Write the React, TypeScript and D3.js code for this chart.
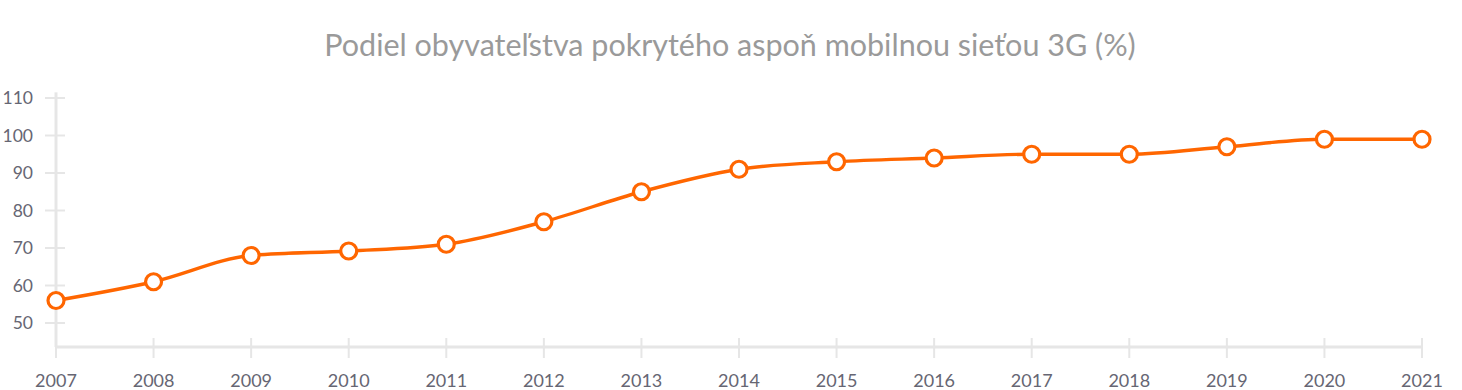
import React from "react";
import * as d3 from "d3";

const years = [2007, 2008, 2009, 2010, 2011, 2012, 2013, 2014, 2015, 2016, 2017, 2018, 2019, 2020, 2021];
const values = [56, 61, 68, 69.2, 71, 77, 85, 91, 93, 94, 95, 95, 97, 99, 99];
const yTicks = [50, 60, 70, 80, 90, 100, 110];
const title = "Podiel obyvateľstva pokrytého aspoň mobilnou sieťou 3G (%)";

const W = 1462;
const H = 390;
const FONT = "Lato, 'Open Sans', sans-serif";

export default function App() {
  const x = d3.scaleLinear().domain([2007, 2021]).range([56, 1422]);
  const y = d3.scaleLinear().domain([50, 110]).range([323, 98]);
  const axisY = y(43.6);
  const line = d3
    .line<number>()
    .x((_, i) => x(years[i]))
    .y((d) => y(d))
    .curve(d3.curveMonotoneX);

  return (
    <svg width={W} height={H} style={{ position: "absolute", left: 0, top: 0, background: "#fff" }}>
      <text x={730} y={56} textAnchor="middle" fontFamily={FONT} fontSize={30.5} fill="#9a9a9a">
        {title}
      </text>
      <line x1={x(2007)} x2={x(2007)} y1={y(111.5)} y2={axisY} stroke="#e6e6e6" strokeWidth={3} />
      {yTicks.map((t) => (
        <g key={t}>
          <line x1={45} x2={65} y1={y(t)} y2={y(t)} stroke="#e6e6e6" strokeWidth={2} />
          <text x={33} y={y(t)} dy="0.35em" textAnchor="end" fontFamily={FONT} fontSize={17.5} fill="#666673">
            {t}
          </text>
        </g>
      ))}
      <line x1={x(2007)} x2={x(2021)} y1={axisY} y2={axisY} stroke="#e6e6e6" strokeWidth={3} />
      {years.map((yr) => (
        <g key={yr}>
          <line x1={x(yr)} x2={x(yr)} y1={axisY - 9} y2={axisY + 11} stroke="#e6e6e6" strokeWidth={2} />
          <text x={x(yr)} y={387} textAnchor="middle" fontFamily={FONT} fontSize={18} fill="#666673">
            {yr}
          </text>
        </g>
      ))}
      <path d={line(values) || ""} fill="none" stroke="#ff6600" strokeWidth={3.4} />
      {values.map((v, i) => (
        <circle key={i} cx={x(years[i])} cy={y(v)} r={8} fill="#fff" stroke="#ff6600" strokeWidth={3.2} />
      ))}
    </svg>
  );
}
